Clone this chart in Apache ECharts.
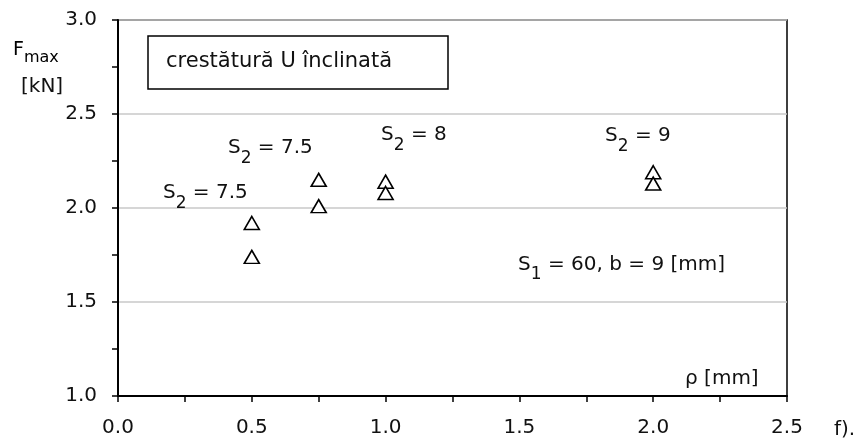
<!DOCTYPE html>
<html>
<head>
<meta charset="utf-8">
<script src="https://cdn.jsdelivr.net/npm/echarts@6/dist/echarts.min.js"></script>
<style>
  html, body { margin: 0; padding: 0; background: #fff; }
  #chart { width: 867px; height: 442px; }
</style>
</head>
<body>
<div id="chart"></div>
<script>
// date
const rho = [0.5, 0.5, 0.75, 0.75, 1.0, 1.0, 2.0, 2.0];
const fmax = [1.92, 1.74, 2.15, 2.01, 2.14, 2.08, 2.19, 2.13];

// adnotari (text + pozitie in unitati de date)
const noteTexts = [
    '{n|S}{s|2}{n| = 7.5}',
    '{n|S}{s|2}{n| = 7.5}',
    '{n|S}{s|2}{n| = 8}',
    '{n|S}{s|2}{n| = 9}',
    '{n|S}{s|1}{n| = 60, b = 9 [mm]}',
    '{n|ρ [mm]}'
];
const noteX = [0.168, 0.411, 0.983, 1.82, 1.495, 2.119];
const noteY = [2.08, 2.32, 2.39, 2.385, 1.70, 1.09];

const FONT = 'DejaVu Sans';
const INK = '#111';
const richStyle = {
    n: { fontFamily: FONT, fontSize: 20, color: INK, lineHeight: 24, verticalAlign: 'middle' },
    s: { fontFamily: FONT, fontSize: 17, color: INK, lineHeight: 24, verticalAlign: 'bottom', padding: [0, 0, -7, 0] }
};

const chart = echarts.init(document.getElementById('chart'));

chart.setOption({
    animation: false,
    backgroundColor: '#fff',
    grid: {
        left: 118, right: 80, top: 20, bottom: 46,
        show: true,
        borderColor: '#000',
        borderWidth: 1.5
    },
    xAxis: {
        type: 'value',
        min: 0, max: 2.5, interval: 0.5,
        axisLine: { lineStyle: { color: '#000', width: 2 } },
        axisTick: { length: 6, lineStyle: { color: '#000', width: 1.5 } },
        minorTick: { show: true, splitNumber: 2, length: 6, lineStyle: { color: '#000', width: 1.5 } },
        splitLine: { show: false },
        axisLabel: {
            margin: 22,
            fontFamily: FONT, fontSize: 20, color: INK,
            formatter: v => v.toFixed(1)
        }
    },
    yAxis: {
        type: 'value',
        min: 1, max: 3, interval: 0.5,
        axisLine: { show: true, lineStyle: { color: '#000', width: 2 } },
        axisTick: { show: true, length: 6, lineStyle: { color: '#000', width: 1.5 } },
        minorTick: { show: true, splitNumber: 2, length: 6, lineStyle: { color: '#000', width: 1.5 } },
        splitLine: { show: true, lineStyle: { color: '#c8c8c8', width: 1.5 } },
        axisLabel: {
            margin: 21,
            fontFamily: FONT, fontSize: 20, color: INK,
            formatter: v => v.toFixed(1)
        }
    },
    graphic: [
        {
            type: 'rect',
            shape: { x: 148, y: 36, width: 300, height: 53 },
            style: { fill: '#fff', stroke: '#000', lineWidth: 1.5 }
        },
        {
            type: 'text',
            x: 166, y: 62,
            style: {
                text: 'crestătură U înclinată',
                fontFamily: FONT, fontSize: 21, fill: INK,
                verticalAlign: 'middle'
            }
        },
        {
            type: 'text',
            x: 13, y: 50,
            style: {
                text: '{n|F}{s|max}',
                verticalAlign: 'middle',
                rich: {
                    n: { fontFamily: FONT, fontSize: 19, color: INK, lineHeight: 22, verticalAlign: 'middle' },
                    s: { fontFamily: FONT, fontSize: 16, color: INK, lineHeight: 22, verticalAlign: 'bottom', padding: [0, 0, -5, 0] }
                }
            }
        },
        {
            type: 'text',
            x: 21, y: 87,
            style: {
                text: '[kN]',
                fontFamily: FONT, fontSize: 20, fill: INK,
                verticalAlign: 'middle'
            }
        },
        {
            type: 'text',
            x: 834, y: 430,
            style: {
                text: 'f).',
                fontFamily: FONT, fontSize: 20, fill: INK,
                verticalAlign: 'middle'
            }
        }
    ],
    series: [
        {
            type: 'scatter',
            data: rho.map((x, i) => [x, fmax[i]]),
            symbol: 'triangle',
            symbolSize: [15, 13],
            itemStyle: { color: '#fff', borderColor: '#000', borderWidth: 1.6, opacity: 1 },
            z: 5
        },
        {
            type: 'scatter',
            data: noteX.map((x, i) => [x, noteY[i]]),
            symbolSize: 0,
            silent: true,
            itemStyle: { color: INK, opacity: 1 },
            label: {
                show: true,
                position: 'right',
                distance: 0,
                color: INK,
                opacity: 1,
                formatter: p => noteTexts[p.dataIndex],
                rich: richStyle
            }
        }
    ]
});
</script>
</body>
</html>
